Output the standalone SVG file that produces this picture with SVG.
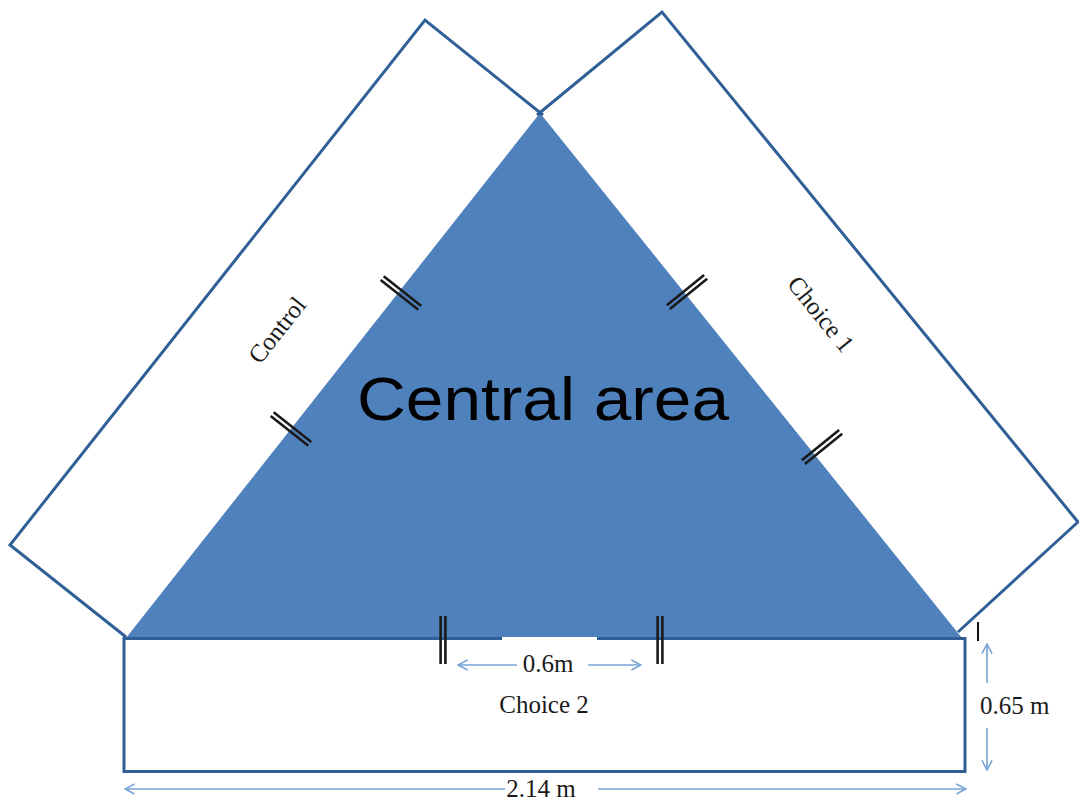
<svg xmlns="http://www.w3.org/2000/svg" width="1079" height="800" viewBox="0 0 1079 800">
<style>
.edge{fill:none;stroke:#2f5f96;stroke-width:3;stroke-linejoin:miter}
.tri{fill:#4f81bd}
.bar{stroke:#1a1a1a;stroke-width:2.6}
.dim{fill:none;stroke:#77a3d6;stroke-width:1.6}
.lbl{font-family:"Liberation Serif","Times New Roman",serif;font-size:25px;fill:#1a1a1a}
.big{font-family:"Liberation Sans",Arial,sans-serif;font-size:62px;fill:#000}
</style>
<defs>
<marker id="arr" viewBox="0 0 10 10" refX="9" refY="5" markerWidth="12" markerHeight="14" orient="auto-start-reverse" markerUnits="userSpaceOnUse">
<path d="M1,0.8 L9,5 L1,9.2" fill="none" stroke="#77a3d6" stroke-width="1.3"/>
</marker>
<g id="dbl">
<line class="bar" x1="-24" y1="-2.4" x2="24" y2="-2.4"/>
<line class="bar" x1="-24" y1="2.4" x2="24" y2="2.4"/>
</g>
</defs>
<rect width="1079" height="800" fill="#fff"/>

<g id="central-area">
<polygon class="tri" points="540,113 126,638 962,638"/>
<text class="big" x="543" y="420" text-anchor="middle" textLength="372" lengthAdjust="spacingAndGlyphs">Central area</text>
</g>

<g id="control">
<path class="edge" d="M126,637 L10,545 L425,20 L543,115"/>
<text class="lbl" transform="translate(277,330) rotate(-51.7)" text-anchor="middle" dominant-baseline="central">Control</text>
</g>

<g id="choice1">
<path class="edge" d="M537,115 L662,12 L1078,522 L958,632"/>
<text class="lbl" transform="translate(821,314) rotate(51)" text-anchor="middle" dominant-baseline="central">Choice 1</text>
</g>

<g id="choice2">
<rect x="124" y="638.5" width="841" height="133" fill="none" stroke="#2f5f96" stroke-width="3"/>
<rect x="502" y="637" width="95" height="4" fill="#fff"/>
<text class="lbl" x="544" y="713" text-anchor="middle">Choice 2</text>
</g>

<g id="doors">
<use href="#dbl" transform="translate(401,293) rotate(38.3)"/>
<use href="#dbl" transform="translate(291,429) rotate(38.3)"/>
<use href="#dbl" transform="translate(687,292) rotate(-39)"/>
<use href="#dbl" transform="translate(822,447) rotate(-39)"/>
<use href="#dbl" transform="translate(443,640) rotate(90)"/>
<use href="#dbl" transform="translate(660,640) rotate(90)"/>
<line x1="978" y1="622" x2="978" y2="641" stroke="#111" stroke-width="2"/>
</g>

<g id="connectors">
<line class="dim" x1="517" y1="665" x2="458" y2="665" marker-end="url(#arr)"/>
<line class="dim" x1="588" y1="665" x2="641" y2="665" marker-end="url(#arr)"/>
<line class="dim" x1="987" y1="683" x2="987" y2="644" marker-end="url(#arr)"/>
<line class="dim" x1="987" y1="728" x2="987" y2="770" marker-end="url(#arr)"/>
<line class="dim" x1="505" y1="789" x2="125" y2="789" marker-end="url(#arr)"/>
<line class="dim" x1="598" y1="789" x2="966" y2="789" marker-end="url(#arr)"/>
</g>

<g id="dimension-labels">
<text class="lbl" x="548" y="672" text-anchor="middle">0.6m</text>
<text class="lbl" x="980" y="714">0.65 m</text>
<text class="lbl" x="541" y="797" text-anchor="middle">2.14 m</text>
</g>
</svg>
